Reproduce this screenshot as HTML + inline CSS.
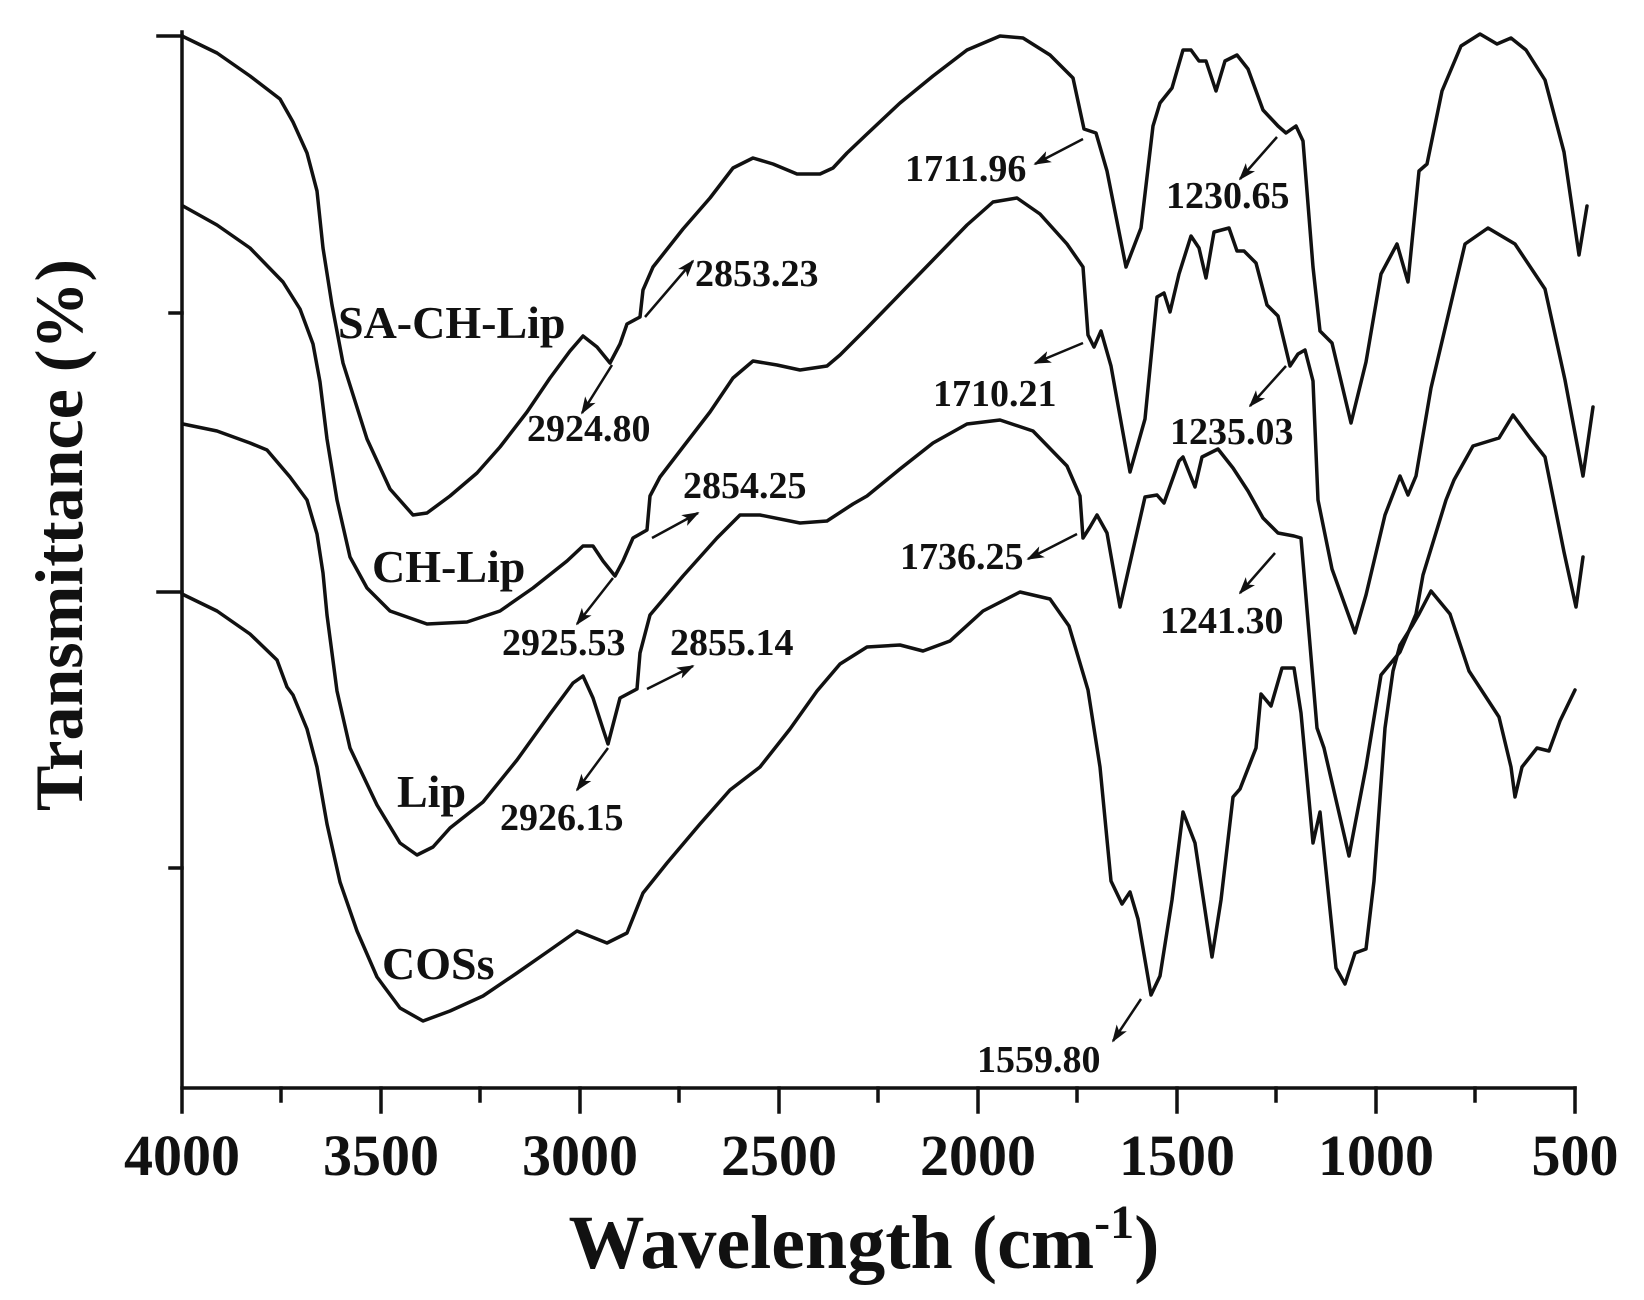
<!DOCTYPE html>
<html><head><meta charset="utf-8"><style>
html,body{margin:0;padding:0;background:#fff;}
svg{display:block;}
text{font-family:"Liberation Serif","DejaVu Serif",serif;font-weight:bold;fill:#111;}
</style></head><body>
<svg width="1644" height="1300" viewBox="0 0 1644 1300" xmlns="http://www.w3.org/2000/svg" font-family="Liberation Serif, serif">
<defs><marker id="ah" viewBox="0 0 10 10" refX="9" refY="5" markerWidth="7" markerHeight="7" orient="auto"><path d="M0,1.5 L10,5 L0,8.5 L2.5,5 z" fill="#111"/></marker></defs>
<g stroke="#111" stroke-width="3.5" fill="none" stroke-linecap="square">
<polyline points="182,32 182,1088 1575,1088"/>
<line x1="158" y1="36" x2="182" y2="36"/><line x1="170" y1="313" x2="182" y2="313"/>
<line x1="158" y1="592" x2="182" y2="592"/><line x1="170" y1="868" x2="182" y2="868"/>
<line x1="182" y1="1088" x2="182" y2="1112"/><line x1="281" y1="1088" x2="281" y2="1101"/>
<line x1="381" y1="1088" x2="381" y2="1112"/><line x1="480" y1="1088" x2="480" y2="1101"/>
<line x1="580" y1="1088" x2="580" y2="1112"/><line x1="679" y1="1088" x2="679" y2="1101"/>
<line x1="779" y1="1088" x2="779" y2="1112"/><line x1="878" y1="1088" x2="878" y2="1101"/>
<line x1="978" y1="1088" x2="978" y2="1112"/><line x1="1077" y1="1088" x2="1077" y2="1101"/>
<line x1="1177" y1="1088" x2="1177" y2="1112"/><line x1="1276" y1="1088" x2="1276" y2="1101"/>
<line x1="1376" y1="1088" x2="1376" y2="1112"/><line x1="1475" y1="1088" x2="1475" y2="1101"/>
<line x1="1575" y1="1088" x2="1575" y2="1112"/>
</g>
<g stroke="#111" stroke-width="3.5" fill="none" stroke-linejoin="round" stroke-linecap="round">
<polyline points="182,36 217,53 250,76 280,99 293,122 307,153 317,191 323,248 332,305 343,363 367,439 390,489 413,515 427,513 450,496 477,473 500,447 527,412 550,378 570,351 583,336 597,347 610,363 620,344 627,324 640,317 643,290 653,267 683,229 710,198 733,168 753,158 773,164 797,174 820,174 833,168 847,153 867,134 900,103 933,76 967,50 1000,36 1023,38 1050,55 1073,78 1084,129 1096,133 1107,171 1126,267 1141,228 1153,126 1160,103 1172,88 1183,50 1191,50 1199,61 1206,61 1216,91 1225,61 1237,55 1248,69 1263,110 1278,126 1286,133 1296,126 1303,141 1313,267 1320,331 1332,343 1351,423 1366,362 1381,274 1397,244 1408,282 1419,171 1427,164 1442,91 1461,46 1480,34 1497,44 1511,38 1526,50 1545,80 1564,152 1579,255 1587,206"/>
<polyline points="183,206 217,225 250,248 283,282 300,309 313,344 320,382 327,439 337,500 350,557 367,588 390,611 427,624 467,622 500,611 533,588 567,561 583,546 593,546 603,561 615,576 623,561 633,538 647,530 650,496 660,477 683,447 710,412 733,378 753,361 777,365 800,370 827,366 840,355 867,328 900,294 933,260 967,225 993,202 1017,198 1040,214 1067,244 1083,267 1088,335 1094,347 1101,331 1111,366 1130,472 1145,419 1157,297 1164,293 1170,312 1179,274 1191,236 1199,248 1206,278 1214,232 1229,228 1237,251 1244,251 1256,263 1267,305 1278,316 1290,366 1298,354 1305,350 1313,381 1318,500 1332,569 1355,633 1366,595 1385,515 1400,476 1408,495 1416,476 1431,388 1465,244 1488,228 1515,244 1545,289 1565,380 1583,476 1593,407"/>
<polyline points="183,424 217,431 250,443 267,450 290,477 307,500 317,534 323,573 327,615 337,691 350,748 377,805 400,843 417,855 433,847 450,828 483,802 517,760 550,714 573,683 583,676 593,698 603,729 608,744 620,698 637,689 640,653 650,615 683,576 717,538 740,515 760,515 800,523 827,521 853,504 867,496 900,469 933,443 967,424 1000,420 1033,431 1067,466 1080,496 1083,538 1090,527 1097,515 1107,533 1120,607 1145,497 1157,495 1164,503 1179,461 1183,457 1195,487 1202,457 1218,449 1233,468 1248,491 1263,518 1278,533 1294,536 1301,538 1317,728 1324,748 1349,856 1366,767 1381,675 1400,652 1416,614 1423,575 1446,500 1454,480 1473,446 1499,438 1513,415 1530,438 1545,457 1564,552 1576,607 1583,557"/>
<polyline points="182,594 217,611 250,634 277,660 287,687 293,695 307,729 317,767 327,824 340,882 357,931 377,977 400,1008 423,1021 450,1011 483,996 517,973 550,950 577,931 597,939 607,943 627,933 643,893 667,863 700,824 730,790 760,767 790,729 817,691 840,664 867,647 900,645 923,651 950,641 983,611 1020,592 1050,599 1069,626 1088,690 1100,767 1111,881 1122,904 1130,892 1138,919 1151,995 1160,976 1172,900 1183,812 1195,843 1212,957 1221,900 1233,797 1240,789 1256,748 1261,694 1271,706 1282,668 1294,668 1301,713 1313,843 1320,812 1336,968 1345,984 1355,953 1366,949 1374,881 1385,728 1393,671 1400,645 1412,626 1419,614 1431,591 1450,614 1469,671 1499,717 1511,767 1515,797 1522,767 1537,748 1549,751 1560,721 1575,690"/>
</g>
<g stroke="#111" stroke-width="2.5" marker-end="url(#ah)">
<line x1="612" y1="365" x2="582" y2="413"/>
<line x1="645" y1="317" x2="693" y2="261"/>
<line x1="613" y1="578" x2="577" y2="624"/>
<line x1="652" y1="538" x2="698" y2="513"/>
<line x1="608" y1="748" x2="577" y2="790"/>
<line x1="647" y1="689" x2="693" y2="666"/>
<line x1="1083" y1="139" x2="1035" y2="164"/>
<line x1="1083" y1="343" x2="1035" y2="363"/>
<line x1="1077" y1="534" x2="1028" y2="559"/>
<line x1="1277" y1="137" x2="1240" y2="179"/>
<line x1="1286" y1="366" x2="1250" y2="406"/>
<line x1="1275" y1="553" x2="1240" y2="593"/>
<line x1="1141" y1="999" x2="1113" y2="1041"/>
</g>
<g font-size="46" font-family="Liberation Serif, serif" font-weight="bold">
<text x="338" y="338">SA-CH-Lip</text>
<text x="372" y="582">CH-Lip</text>
<text x="397" y="807">Lip</text>
<text x="382" y="979">COSs</text>
</g>
<g font-size="38" font-family="Liberation Serif, serif" font-weight="bold">
<text x="527" y="441">2924.80</text>
<text x="502" y="655">2925.53</text>
<text x="500" y="830">2926.15</text>
<text x="695" y="286">2853.23</text>
<text x="683" y="498">2854.25</text>
<text x="670" y="655">2855.14</text>
<text x="905" y="181">1711.96</text>
<text x="933" y="406">1710.21</text>
<text x="900" y="569">1736.25</text>
<text x="1166" y="208">1230.65</text>
<text x="1170" y="444">1235.03</text>
<text x="1160" y="633">1241.30</text>
<text x="977" y="1072">1559.80</text>
</g>
<g font-size="58" text-anchor="middle" font-family="Liberation Serif, serif" font-weight="bold">
<text x="182" y="1175">4000</text>
<text x="381" y="1175">3500</text>
<text x="580" y="1175">3000</text>
<text x="779" y="1175">2500</text>
<text x="978" y="1175">2000</text>
<text x="1177" y="1175">1500</text>
<text x="1376" y="1175">1000</text>
<text x="1575" y="1175">500</text>
</g>
<text x="864" y="1268" font-size="76" text-anchor="middle">Wavelength (cm<tspan font-size="48" dy="-30">-1</tspan><tspan dy="30">)</tspan></text>
<text transform="translate(82,535) rotate(-90)" font-size="68" text-anchor="middle">Transmittance (%)</text>
</svg>
</body></html>
